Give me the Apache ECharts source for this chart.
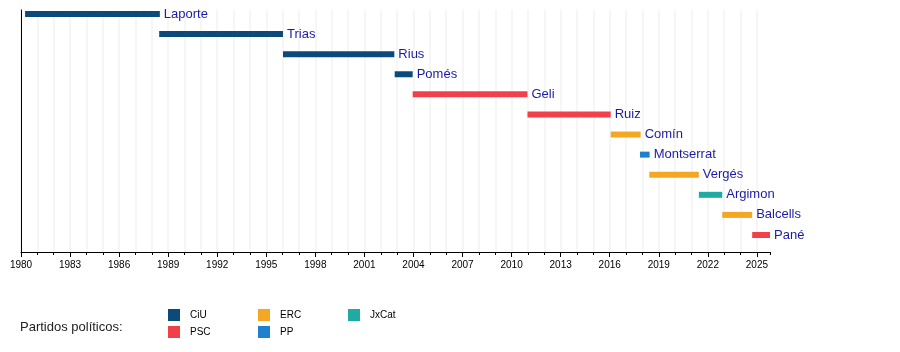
<!DOCTYPE html>
<html>
<head>
<meta charset="utf-8">
<script src="https://cdn.jsdelivr.net/npm/echarts@6/dist/echarts.min.js"></script>
<style>html,body{margin:0;padding:0;background:#fff}#c{width:900px;height:352px}</style>
</head>
<body>
<div id="c"></div>
<script>
var names = ['Laporte','Trias','Rius','Pomés','Geli','Ruiz','Comín','Montserrat','Vergés','Argimon','Balcells','Pané'];
var starts = [1980.25, 1988.45, 1996.02, 2002.85, 2003.95, 2010.97, 2016.06, 2017.85, 2018.42, 2021.45, 2022.88, 2024.71];
var ends   = [1988.49, 1996.02, 2002.83, 2003.95, 2010.97, 2016.06, 2017.89, 2018.44, 2021.45, 2022.88, 2024.71, 2025.8];
var parties = ['CiU','CiU','CiU','CiU','PSC','PSC','ERC','PP','ERC','JxCat','ERC','PSC'];
var partyNames = ['CiU','PSC','ERC','PP','JxCat'];
var partyColors = ['#0b4a7b','#f2404a','#f5a623','#1f80cd','#1faaa4'];
var majorYears = [1980,1983,1986,1989,1992,1995,1998,2001,2004,2007,2010,2013,2016,2019,2022,2025];

var FONT = '"Liberation Sans", Arial, sans-serif';

function renderItem(params, api) {
  var p0 = api.coord([api.value(0), api.value(2)]);
  var p1 = api.coord([api.value(1), api.value(2)]);
  var h = 6;
  return {
    type: 'group',
    children: [
      { type: 'rect', shape: { x: p0[0], y: p0[1] - h / 2, width: p1[0] - p0[0], height: h },
        style: { fill: api.visual('color') } },
      { type: 'text', style: { text: names[api.value(2)], x: p1[0] + 4, y: p0[1],
        align: 'left', verticalAlign: 'middle', fill: '#1a1aa8', fontSize: 13, fontFamily: FONT } }
    ]
  };
}

var series = partyNames.map(function (pn, k) {
  var data = [];
  for (var i = 0; i < names.length; i++) {
    if (parties[i] === pn) data.push([starts[i], ends[i], i]);
  }
  return { name: pn, type: 'custom', renderItem: renderItem, xAxisIndex: 0, yAxisIndex: 0,
    itemStyle: { color: partyColors[k] }, data: data, clip: false, animation: false, z: 5 };
});

var legendCommon = { orient: 'vertical', itemWidth: 12, itemHeight: 12, itemGap: 5, selectedMode: false,
  padding: 0, icon: 'rect', textStyle: { fontSize: 10, fontFamily: FONT, color: '#000', padding: [0, 0, 0, 5] } };

var gridPos = { left: 21, right: 130, top: 10, bottom: 100 };

var chart = echarts.init(document.getElementById('c'), null, { renderer: 'canvas' });
chart.setOption({
  animation: false,
  textStyle: { fontFamily: FONT },
  grid: [Object.assign({}, gridPos), Object.assign({}, gridPos)],
  xAxis: [
    { gridIndex: 0, type: 'value', min: 1980, max: 2025.8, interval: 3, position: 'bottom',
      axisLine: { show: true, onZero: false, lineStyle: { color: '#000', width: 1 } },
      axisTick: { show: true, length: 5, lineStyle: { color: '#000' }, customValues: majorYears },
      axisLabel: { fontSize: 10, color: '#000', margin: 8, fontFamily: FONT, customValues: majorYears,
        formatter: function (v) { return String(v); } },
      splitLine: { show: false } },
    { gridIndex: 1, type: 'value', min: 1980, max: 2025.8, interval: 1, position: 'bottom',
      axisLine: { show: false, onZero: false },
      axisTick: { show: true, length: 3, lineStyle: { color: '#000' } },
      axisLabel: { show: false },
      splitLine: { show: true, showMaxLine: false, lineStyle: { color: '#f6f6f6', width: 2 } } }
  ],
  yAxis: [
    { gridIndex: 0, type: 'value', inverse: true, min: -0.199, max: 11.847,
      axisLine: { show: true, onZero: false, lineStyle: { color: '#000', width: 1 } },
      axisTick: { show: false }, axisLabel: { show: false }, splitLine: { show: false } },
    { gridIndex: 1, type: 'value', show: false, min: 0, max: 1, axisLine: { onZero: false } }
  ],
  legend: [
    Object.assign({ left: 168, top: 309, data: ['CiU', 'PSC'] }, legendCommon),
    Object.assign({ left: 258, top: 309, data: ['ERC', 'PP'] }, legendCommon),
    Object.assign({ left: 348, top: 309, data: ['JxCat'] }, legendCommon)
  ],
  graphic: [
    { type: 'text', left: 20, top: 321, style: { text: 'Partidos políticos:', fontSize: 13, fontFamily: FONT, fill: '#222' } }
  ],
  series: series
});
</script>
</body>
</html>
